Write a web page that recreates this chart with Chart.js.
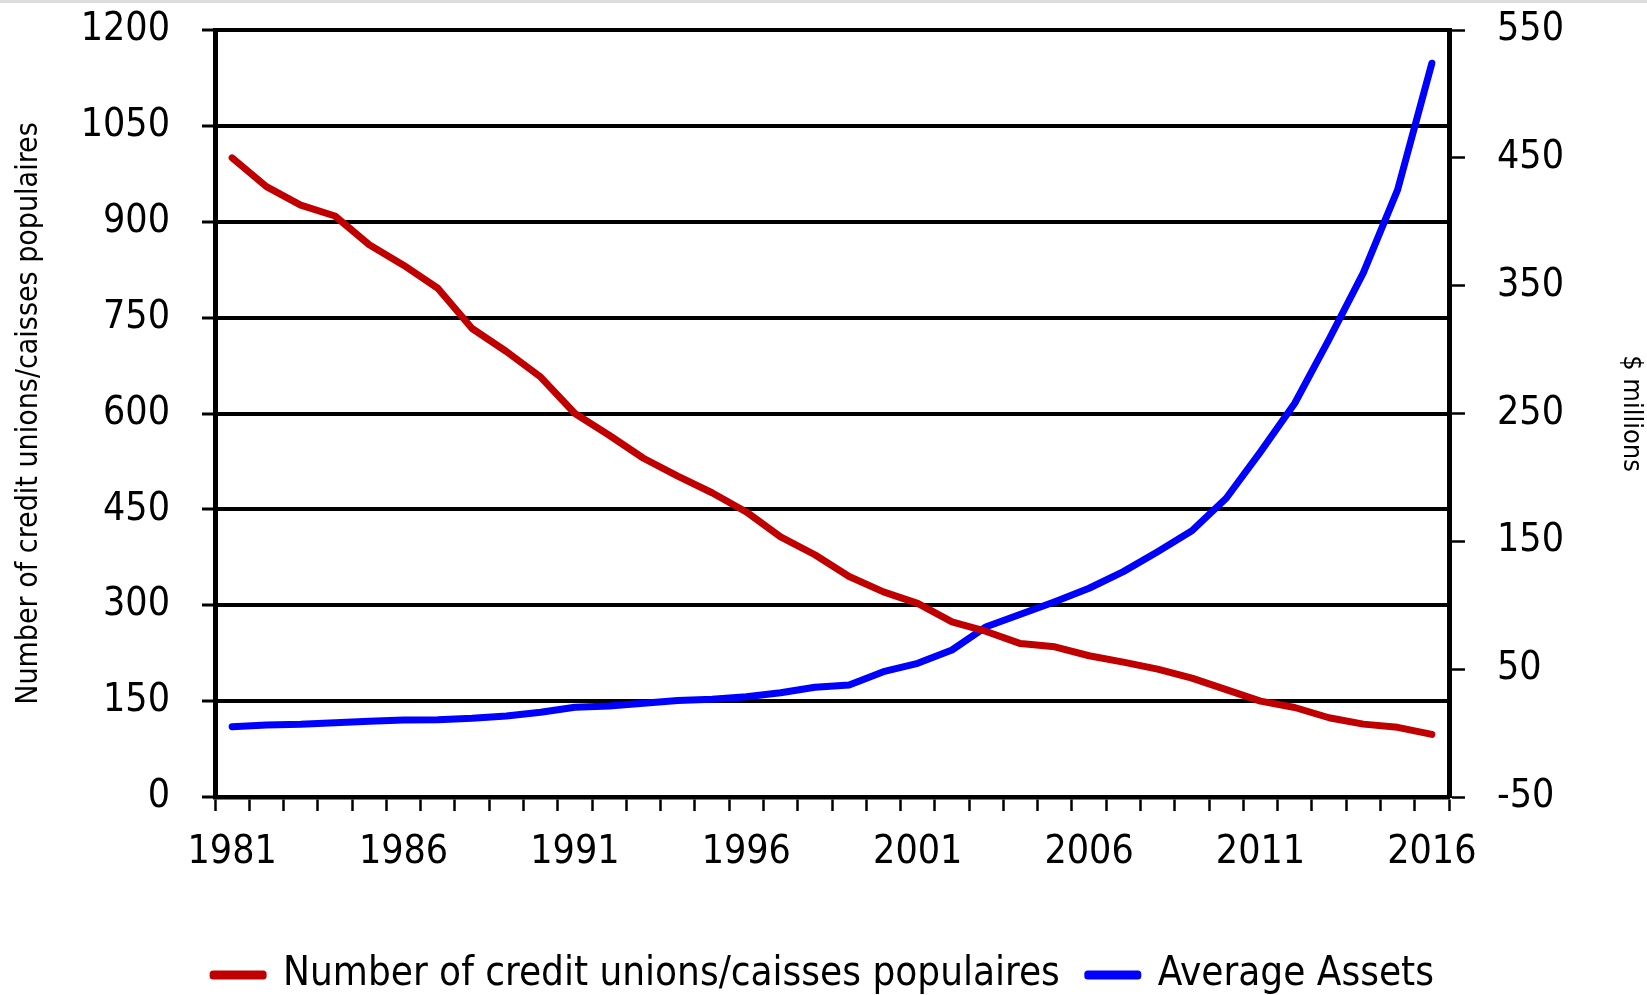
<!DOCTYPE html>
<html>
<head>
<meta charset="utf-8">
<title>Credit unions / caisses populaires</title>
<script src="https://cdn.jsdelivr.net/npm/chart.js@4/dist/chart.umd.min.js"></script>
<style>
  html, body { margin: 0; padding: 0; background: #fff; }
  #wrap { width: 1647px; height: 995px; }
</style>
</head>
<body>
<div id="wrap"><canvas id="chart" width="1647" height="995"></canvas></div>
<script>
// years on the x axis
const years = [];
for (let y = 1981; y <= 2016; y++) years.push(String(y));

// number of credit unions / caisses populaires (left axis)
const creditUnions = [1000, 955, 926, 909, 864, 832, 796, 733, 697, 657,
    600, 566, 530, 502, 476, 446, 407, 379, 345, 321,
    303, 274, 259, 240, 235, 221, 211, 200, 186, 168,
    150, 140, 124, 114, 109, 98];

// average assets, $ millions (right axis)
const avgAssets = [5.0, 6.3, 6.9, 8.1, 9.2, 10.2, 10.5, 11.6, 13.4, 16.3,
    20.2, 21.2, 23.3, 25.4, 26.4, 28.5, 31.6, 35.8, 37.6, 48.0,
    54.6, 65.0, 83.2, 92.9, 102.8, 113.3, 126.3, 141.9, 158.3, 183.7,
    220, 258, 308, 360, 425, 524];

const leftTicks = [0, 150, 300, 450, 600, 750, 900, 1050, 1200];
const rightTicks = [-50, 50, 150, 250, 350, 450, 550];

const FONT = '"Liberation Sans Narrow", "Arial Narrow", "DejaVu Sans Condensed", sans-serif';

// white page with the thin grey strip on top
const pageBg = {
    id: 'pageBg',
    beforeDraw(chart) {
        const c = chart.ctx;
        c.save();
        c.fillStyle = '#ffffff';
        c.fillRect(0, 0, chart.width, chart.height);
        c.fillStyle = '#dddddd';
        c.fillRect(0, 0, chart.width, 3);
        c.restore();
    }
};

// fix the legend height so the axes keep their place
const legendHeight = {
    id: 'legendHeight',
    afterInit(chart) {
        const lg = chart.legend;
        if (!lg) return;
        const orig = lg.fit.bind(lg);
        lg.fit = function () {
            orig();
            this.height = 68;
        };
    }
};

// y axes: fixed width and no extra top/bottom padding from labels
function fixY(w) {
    return function (scale) {
        scale.width = w;
        scale.paddingTop = 0;
        scale.paddingBottom = 0;
    };
}

const ctx = document.getElementById('chart').getContext('2d');
new Chart(ctx, {
    type: 'line',
    data: {
        labels: years,
        datasets: [{
            label: 'Number of credit unions/caisses populaires',
            data: creditUnions,
            yAxisID: 'y',
            borderColor: '#C00000',
            backgroundColor: '#C00000',
            borderWidth: 7,
            borderCapStyle: 'round',
            borderJoinStyle: 'round',
            pointRadius: 0,
            tension: 0
        }, {
            label: 'Average Assets',
            data: avgAssets,
            yAxisID: 'y1',
            borderColor: '#0000FF',
            backgroundColor: '#0000FF',
            borderWidth: 7,
            borderCapStyle: 'round',
            borderJoinStyle: 'round',
            pointRadius: 0,
            tension: 0
        }]
    },
    options: {
        responsive: false,
        animation: false,
        layout: { padding: { top: 30, left: 0, right: 0, bottom: 0 } },
        plugins: {
            tooltip: { enabled: false },
            legend: {
                position: 'bottom',
                labels: {
                    color: '#000',
                    font: { family: FONT, size: 40 },
                    boxWidth: 50,
                    boxHeight: 2,
                    padding: 28
                }
            }
        },
        scales: {
            x: {
                type: 'category',
                offset: true,
                afterFit(scale) { scale.height = 130; },
                grid: {
                    offset: true,
                    drawOnChartArea: false,
                    drawTicks: true,
                    tickLength: 14,
                    tickWidth: 2.5,
                    tickColor: '#000',
                    color: '#000'
                },
                border: { display: true, color: '#000', width: 4.5 },
                ticks: {
                    autoSkip: false,
                    maxRotation: 0,
                    padding: 18,
                    color: '#000',
                    font: { family: FONT, size: 39 },
                    callback(v, i) { return i % 5 === 0 ? years[i] : ''; }
                }
            },
            y: {
                position: 'left',
                min: 0,
                max: 1200,
                afterFit: fixY(215),
                afterBuildTicks(scale) { scale.ticks = leftTicks.map(v => ({ value: v })); },
                grid: {
                    color: '#000',
                    lineWidth: 4,
                    drawTicks: true,
                    tickLength: 13,
                    tickWidth: 3,
                    tickColor: '#000'
                },
                border: { display: true, color: '#000', width: 5 },
                ticks: {
                    padding: 32,
                    color: '#000',
                    font: { family: FONT, size: 39 },
                    callback(v) { return String(v); }
                },
                title: {
                    display: true,
                    text: 'Number of credit unions/caisses populaires',
                    color: '#000',
                    font: { family: FONT, size: 30 },
                    padding: { top: 11, bottom: 0 }
                }
            },
            y1: {
                position: 'right',
                min: -50,
                max: 550,
                afterFit: fixY(198),
                afterBuildTicks(scale) { scale.ticks = rightTicks.map(v => ({ value: v })); },
                grid: {
                    drawOnChartArea: false,
                    drawTicks: true,
                    tickLength: 16,
                    tickWidth: 2.5,
                    tickColor: '#000',
                    color: '#000'
                },
                border: { display: true, color: '#000', width: 5 },
                ticks: {
                    padding: 32,
                    color: '#000',
                    font: { family: FONT, size: 39 },
                    callback(v) { return String(v); }
                },
                title: {
                    display: true,
                    text: '$ millions',
                    color: '#000',
                    font: { family: FONT, size: 27 },
                    padding: { top: 0, bottom: 0 }
                }
            }
        }
    },
    plugins: [pageBg, legendHeight]
});
</script>
</body>
</html>
